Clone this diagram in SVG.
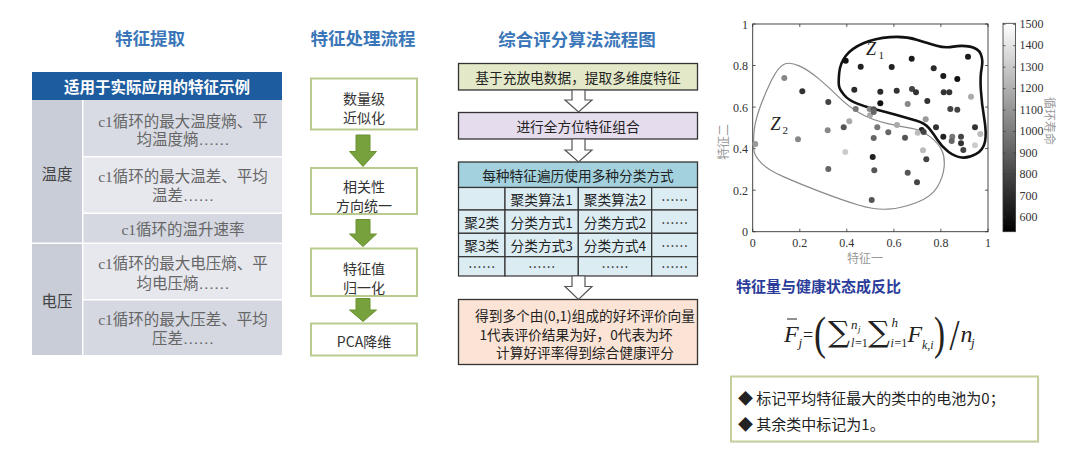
<svg xmlns="http://www.w3.org/2000/svg" width="1080" height="461" viewBox="0 0 1080 461">
<defs>
<style>
.title{font-family:"Noto Sans CJK SC",sans-serif;font-size:17.5px;font-weight:bold;fill:#3a76b8;text-anchor:middle;dominant-baseline:central}
.cell{font-family:"Liberation Serif","Noto Sans CJK SC",serif;font-size:15.5px;fill:#666;text-anchor:middle;dominant-baseline:central}
.lab{font-family:"Noto Sans CJK SC",sans-serif;font-size:15.5px;fill:#444;text-anchor:middle;dominant-baseline:central}
.mbox{fill:#fff;stroke:#b9cc8e;stroke-width:2}
.mtxt{font-family:"Noto Sans CJK SC",sans-serif;font-size:14px;fill:#333;text-anchor:middle;dominant-baseline:central}
.garrow{fill:#77a13c;stroke:#6a9231;stroke-width:1}
.fbox{stroke:#333;stroke-width:1.3}
.ftxt{font-family:"Noto Sans CJK SC",sans-serif;font-size:13.7px;fill:#222;text-anchor:middle;dominant-baseline:central}
.harrow{fill:#fff;stroke:#555;stroke-width:1.2}
.grid{fill:#dcecf3;stroke:#333;stroke-width:1.2}
.tick{font-family:"Liberation Serif",serif;font-size:12px;fill:#333}
.axl{font-family:"Noto Sans CJK SC",sans-serif;font-size:12px;fill:#999;text-anchor:middle;dominant-baseline:central}
.m{font-family:"Liberation Serif",serif;fill:#222}
.mi{font-family:"Liberation Serif",serif;font-style:italic;fill:#222}
.sum{font-family:"DejaVu Serif",serif;font-size:29px;fill:#222}
.bul{font-family:"Noto Sans CJK SC",sans-serif;font-size:15px;fill:#222}
</style>
<linearGradient id="cb" x1="0" y1="0" x2="0" y2="1">
<stop offset="0" stop-color="#ffffff"/>
<stop offset="1" stop-color="#000000"/>
</linearGradient>
</defs>
<rect width="1080" height="461" fill="#ffffff"/>

<!-- Left: feature extraction table -->
<g id="feature-extraction">
<text class="title" x="150" y="37">特征提取</text>
<rect x="32" y="72" width="250" height="28" fill="#1d5c9e"/>
<text x="157" y="86" font-family="Noto Sans CJK SC, sans-serif" font-size="15.5" font-weight="bold" fill="#fff" text-anchor="middle" dominant-baseline="central">适用于实际应用的特征示例</text>
<rect x="32" y="100" width="50" height="142.5" fill="#c9cdd8"/>
<rect x="32" y="244" width="50" height="111" fill="#c9cdd8"/>
<rect x="83.5" y="100" width="198.5" height="56" fill="#d8dbe3"/>
<rect x="83.5" y="157.5" width="198.5" height="55" fill="#e7e8ee"/>
<rect x="83.5" y="214" width="198.5" height="28.5" fill="#d5d8e1"/>
<rect x="83.5" y="244" width="198.5" height="55" fill="#e7e8ee"/>
<rect x="83.5" y="300.5" width="198.5" height="54.5" fill="#d5d8e1"/>
<text class="lab" x="57" y="173">温度</text>
<text class="lab" x="57" y="300">电压</text>
<text class="cell" x="183" y="121.5">c1循环的最大温度熵、平</text>
<text class="cell" x="183" y="139">均温度熵……</text>
<text class="cell" x="183" y="176.5">c1循环的最大温差、平均</text>
<text class="cell" x="183" y="195">温差……</text>
<text class="cell" x="183" y="229">c1循环的温升速率</text>
<text class="cell" x="183" y="263.5">c1循环的最大电压熵、平</text>
<text class="cell" x="183" y="283">均电压熵……</text>
<text class="cell" x="183" y="319.5">c1循环的最大压差、平均</text>
<text class="cell" x="183" y="338">压差……</text>
</g>

<!-- Middle: feature processing flow -->
<g id="processing-title"><text class="title" x="363" y="37">特征处理流程</text></g>
<g id="step-1">
<rect class="mbox" x="311" y="78.5" width="106" height="51"/>
<text class="mtxt" x="364" y="97.5">数量级</text>
<text class="mtxt" x="364" y="116.5">近似化</text>
</g>
<g id="step-2">
<rect class="mbox" x="311" y="168" width="106" height="46"/>
<text class="mtxt" x="364" y="185.5">相关性</text>
<text class="mtxt" x="364" y="205">方向统一</text>
</g>
<g id="step-3">
<rect class="mbox" x="311" y="248.5" width="106" height="47.5"/>
<text class="mtxt" x="364" y="267.5">特征值</text>
<text class="mtxt" x="364" y="286.5">归一化</text>
</g>
<g id="step-4">
<rect class="mbox" x="311" y="323.5" width="106" height="32"/>
<text class="mtxt" x="364" y="341">PCA降维</text>
</g>

<!-- Right-middle: scoring algorithm flowchart -->
<g id="algo-title"><text class="title" x="577" y="38">综合评分算法流程图</text></g>
<g id="algo-1">
<rect class="fbox" x="458.5" y="63.5" width="239" height="26.5" fill="#e3e9c8"/>
<text class="ftxt" x="578" y="77">基于充放电数据，提取多维度特征</text>
</g>
<g id="algo-2">
<rect class="fbox" x="458.5" y="112.5" width="239" height="26.5" fill="#e5dced"/>
<text class="ftxt" x="578" y="126">进行全方位特征组合</text>
</g>
<g id="algo-3">
<rect class="fbox" x="458.5" y="162" width="239" height="25.5" fill="#a3d2de"/>
<text class="ftxt" x="578" y="175">每种特征遍历使用多种分类方式</text>
<rect class="grid" x="458.5" y="187.5" width="46.5" height="22.5"/>
<rect class="grid" x="505" y="187.5" width="73.3" height="22.5"/>
<rect class="grid" x="578.3" y="187.5" width="73.4" height="22.5"/>
<rect class="grid" x="651.7" y="187.5" width="45.8" height="22.5"/>
<rect class="grid" x="458.5" y="210" width="46.5" height="23.3"/>
<rect class="grid" x="505" y="210" width="73.3" height="23.3"/>
<rect class="grid" x="578.3" y="210" width="73.4" height="23.3"/>
<rect class="grid" x="651.7" y="210" width="45.8" height="23.3"/>
<rect class="grid" x="458.5" y="233.3" width="46.5" height="23.4"/>
<rect class="grid" x="505" y="233.3" width="73.3" height="23.4"/>
<rect class="grid" x="578.3" y="233.3" width="73.4" height="23.4"/>
<rect class="grid" x="651.7" y="233.3" width="45.8" height="23.4"/>
<rect class="grid" x="458.5" y="256.7" width="46.5" height="19.3"/>
<rect class="grid" x="505" y="256.7" width="73.3" height="19.3"/>
<rect class="grid" x="578.3" y="256.7" width="73.4" height="19.3"/>
<rect class="grid" x="651.7" y="256.7" width="45.8" height="19.3"/>
<text class="ftxt" x="541.7" y="199">聚类算法1</text>
<text class="ftxt" x="615" y="199">聚类算法2</text>
<text class="ftxt" x="674.6" y="199">……</text>
<text class="ftxt" x="481.7" y="221.7">聚2类</text>
<text class="ftxt" x="541.7" y="221.7">分类方式1</text>
<text class="ftxt" x="615" y="221.7">分类方式2</text>
<text class="ftxt" x="674.6" y="221.7">……</text>
<text class="ftxt" x="481.7" y="245">聚3类</text>
<text class="ftxt" x="541.7" y="245">分类方式3</text>
<text class="ftxt" x="615" y="245">分类方式4</text>
<text class="ftxt" x="674.6" y="245">……</text>
<text class="ftxt" x="481.7" y="266.3">……</text>
<text class="ftxt" x="541.7" y="266.3">……</text>
<text class="ftxt" x="615" y="266.3">……</text>
<text class="ftxt" x="674.6" y="266.3">……</text>
</g>
<g id="algo-4">
<rect class="fbox" x="458.5" y="299.5" width="239" height="65" fill="#fbe4d5"/>
<text class="ftxt" x="585" y="315">得到多个由(0,1)组成的好坏评价向量</text>
<text class="ftxt" x="576" y="334">1代表评价结果为好，0代表为坏</text>
<text class="ftxt" x="585" y="352">计算好评率得到综合健康评分</text>
</g>

<!-- Connectors -->
<g id="connectors">
<path class="garrow" d="M356,135 H370 V151.5 H376.5 L363,166.5 L349.5,151.5 H356 Z"/>
<path class="garrow" d="M356,219.5 H370 V234 H376.5 L363,246.5 L349.5,234 H356 Z"/>
<path class="garrow" d="M356,298.5 H370 V310 H376.5 L363,321.5 L349.5,310 H356 Z"/>
<path class="harrow" d="M572,90 H585 V100 H592 L578.5,112 L565,100 H572 Z"/>
<path class="harrow" d="M572,139 H585 V150 H592 L578.5,162 L565,150 H572 Z"/>
<path class="harrow" d="M572,276 H585 V286.5 H592 L578.5,299.5 L565,286.5 H572 Z"/>
</g>

<!-- Scatter plot -->
<g id="scatter-plot">
<rect x="752.7" y="24" width="235.3" height="207.7" fill="none" stroke="#333" stroke-width="0.9"/>
<g stroke="#333" stroke-width="0.8">
<path d="M752.7,231.7v-3M799.8,231.7v-3M846.8,231.7v-3M893.9,231.7v-3M940.9,231.7v-3M988,231.7v-3"/>
<path d="M752.7,24v3M799.8,24v3M846.8,24v3M893.9,24v3M940.9,24v3M988,24v3"/>
<path d="M752.7,231.7h3M752.7,190.2h3M752.7,148.6h3M752.7,107.1h3M752.7,65.5h3M752.7,24h3"/>
<path d="M988,231.7h-3M988,190.2h-3M988,148.6h-3M988,107.1h-3M988,65.5h-3M988,24h-3"/>
</g>
<g class="tick" text-anchor="middle">
<text x="752.7" y="247">0</text>
<text x="799.8" y="247">0.2</text>
<text x="846.8" y="247">0.4</text>
<text x="893.9" y="247">0.6</text>
<text x="940.9" y="247">0.8</text>
<text x="988" y="247">1</text>
</g>
<g class="tick" text-anchor="end">
<text x="748" y="236">0</text>
<text x="748" y="194.5">0.2</text>
<text x="748" y="153">0.4</text>
<text x="748" y="111.5">0.6</text>
<text x="748" y="70">0.8</text>
<text x="748" y="28.5">1</text>
</g>
<text class="axl" x="865" y="257">特征一</text>
<text class="axl" transform="translate(722,142) rotate(-90)">特征二</text>
<path d="M753.8,135 Q754.3,123.3 759.65,108.3 Q765,93.3 771.65,80 Q778.3,66.7 784.15,64.2 Q790,61.7 799.15,65.85 Q808.3,70 818.3,78.35 Q828.3,86.7 838.3,96.7 Q848.3,106.7 860,113.35 Q871.7,120 886.7,123.35 Q901.7,126.7 911.7,128.35 Q921.7,130 930,136.65 Q938.3,143.3 941.65,150 Q945,156.7 944.15,166.7 Q943.3,176.7 937.5,186.7 Q931.7,196.7 916.7,202.5 Q901.7,208.3 888.35,209.15 Q875,210 858.35,205 Q841.7,200 820,191.65 Q798.3,183.3 783.3,176.65 Q768.3,170 761.65,163.35 Q755,156.7 754.15,151.7 Q753.3,146.7 753.8,135 Z" fill="none" stroke="#8a8a8a" stroke-width="1.2"/>
<path d="M839.15,73.3 Q840,63.3 845.85,55.8 Q851.7,48.3 863.35,43.3 Q875,38.3 890,37.15 Q905,36 916.65,39.65 Q928.3,43.3 936.65,45.8 Q945,48.3 953.35,46.65 Q961.7,45 970,46.65 Q978.3,48.3 980.8,54.15 Q983.3,60 981.65,68.35 Q980,76.7 980.85,90 Q981.7,103.3 984.2,118.3 Q986.7,133.3 985,141.65 Q983.3,150 975.8,154.15 Q968.3,158.3 961.65,157.5 Q955,156.7 948.35,151.7 Q941.7,146.7 937.5,140 Q933.3,133.3 929.15,128.3 Q925,123.3 916.65,120.8 Q908.3,118.3 896.65,115 Q885,111.7 875,109.2 Q865,106.7 856.65,103.35 Q848.3,100 844.15,95 Q840,90 839.15,86.65 Q838.3,83.3 839.15,73.3 Z" fill="none" stroke="#111" stroke-width="2.6"/>
<g>
<circle cx="845.7" cy="60.7" r="3" fill="#111"/>
<circle cx="860.7" cy="66.7" r="3" fill="#222"/>
<circle cx="891.7" cy="67" r="3" fill="#222"/>
<circle cx="911.7" cy="58.7" r="3" fill="#1a1a1a"/>
<circle cx="933.7" cy="68.3" r="3" fill="#2a2a2a"/>
<circle cx="943.3" cy="76" r="3" fill="#1a1a1a"/>
<circle cx="957.3" cy="79" r="3" fill="#111"/>
<circle cx="968" cy="56.7" r="3" fill="#1a1a1a"/>
<circle cx="854.3" cy="89.7" r="3" fill="#2a2a2a"/>
<circle cx="880.3" cy="91.7" r="3" fill="#2a2a2a"/>
<circle cx="896.7" cy="90.7" r="3" fill="#333"/>
<circle cx="912" cy="89" r="3" fill="#444"/>
<circle cx="916" cy="92.3" r="3" fill="#333"/>
<circle cx="943.7" cy="92.3" r="3" fill="#333"/>
<circle cx="949.3" cy="92.3" r="3" fill="#333"/>
<circle cx="971" cy="96.7" r="3" fill="#aaa"/>
<circle cx="880.3" cy="103.3" r="3" fill="#111"/>
<circle cx="855.7" cy="109" r="3" fill="#777"/>
<circle cx="869.7" cy="109" r="3" fill="#888"/>
<circle cx="873.7" cy="109.3" r="3" fill="#555"/>
<circle cx="907.7" cy="104" r="3" fill="#888"/>
<circle cx="927.3" cy="101" r="3" fill="#333"/>
<circle cx="950.3" cy="109" r="3" fill="#444"/>
<circle cx="957.3" cy="109.7" r="3" fill="#444"/>
<circle cx="925.7" cy="119.3" r="3" fill="#999"/>
<circle cx="936" cy="127.3" r="3" fill="#333"/>
<circle cx="975" cy="127.3" r="3" fill="#333"/>
<circle cx="980.3" cy="134" r="3" fill="#bbb"/>
<circle cx="943.3" cy="136.7" r="3" fill="#222"/>
<circle cx="952.3" cy="136.7" r="3" fill="#777"/>
<circle cx="961" cy="136.7" r="3" fill="#444"/>
<circle cx="951.7" cy="141" r="3" fill="#666"/>
<circle cx="961" cy="143.3" r="3" fill="#333"/>
<circle cx="963.3" cy="150" r="3" fill="#444"/>
<circle cx="975" cy="145.3" r="3" fill="#ccc"/>
<circle cx="921.7" cy="130" r="3" fill="#222"/>
<circle cx="923.7" cy="132" r="3" fill="#444"/>
<circle cx="917.7" cy="132.7" r="3" fill="#bbb"/>
<circle cx="784.3" cy="78" r="3" fill="#888"/>
<circle cx="802.3" cy="91.3" r="3" fill="#333"/>
<circle cx="828.3" cy="102" r="3" fill="#444"/>
<circle cx="849.3" cy="121.3" r="3" fill="#aaa"/>
<circle cx="843.7" cy="127.3" r="3" fill="#555"/>
<circle cx="827.7" cy="130.3" r="3" fill="#888"/>
<circle cx="798" cy="139.3" r="3" fill="#888"/>
<circle cx="755.3" cy="144" r="3" fill="#999"/>
<circle cx="870" cy="115.3" r="3" fill="#aaa"/>
<circle cx="873.7" cy="112" r="3" fill="#666"/>
<circle cx="877.3" cy="127.3" r="3" fill="#777"/>
<circle cx="873.7" cy="138" r="3" fill="#666"/>
<circle cx="888.3" cy="132.3" r="3" fill="#666"/>
<circle cx="897" cy="125" r="3" fill="#aaa"/>
<circle cx="905" cy="137.7" r="3" fill="#555"/>
<circle cx="845.3" cy="152" r="3" fill="#ccc"/>
<circle cx="872.7" cy="157" r="3" fill="#222"/>
<circle cx="874.3" cy="170.3" r="3" fill="#555"/>
<circle cx="828.3" cy="169" r="3" fill="#666"/>
<circle cx="907.7" cy="172.7" r="3" fill="#555"/>
<circle cx="923" cy="150.3" r="3" fill="#bbb"/>
<circle cx="926.3" cy="159.3" r="3" fill="#444"/>
<circle cx="917" cy="182.3" r="3" fill="#444"/>
<circle cx="871.7" cy="200" r="3" fill="#555"/>
</g>
<text class="mi" x="866" y="55" font-size="18">Z</text>
<text class="m" x="878.5" y="58.5" font-size="11">1</text>
<text class="mi" x="770.5" y="130" font-size="18">Z</text>
<text class="m" x="782.5" y="133.5" font-size="11">2</text>
<rect x="1003" y="23.3" width="12.5" height="208.4" fill="url(#cb)" stroke="#333" stroke-width="0.8"/>
<g stroke="#333" stroke-width="0.7">
<path d="M1015.5,24.3h-2.5M1015.5,45.7h-2.5M1015.5,67.2h-2.5M1015.5,88.6h-2.5M1015.5,110.1h-2.5M1015.5,131.5h-2.5M1015.5,153h-2.5M1015.5,174.4h-2.5M1015.5,195.9h-2.5M1015.5,217.3h-2.5"/>
<path d="M1003,24.3h2.5M1003,45.7h2.5M1003,67.2h2.5M1003,88.6h2.5M1003,110.1h2.5M1003,131.5h2.5M1003,153h2.5M1003,174.4h2.5M1003,195.9h2.5M1003,217.3h2.5"/>
</g>
<g class="tick" font-size="10.5">
<text x="1019.5" y="28">1500</text>
<text x="1019.5" y="49.4">1400</text>
<text x="1019.5" y="70.9">1300</text>
<text x="1019.5" y="92.3">1200</text>
<text x="1019.5" y="113.8">1100</text>
<text x="1019.5" y="135.2">1000</text>
<text x="1019.5" y="156.7">900</text>
<text x="1019.5" y="178.1">800</text>
<text x="1019.5" y="199.6">700</text>
<text x="1019.5" y="221">600</text>
</g>
<text class="axl" font-size="9.5" transform="translate(1050,121) rotate(90)">循环寿命</text>
</g>

<!-- Formula -->
<g id="formula">
<text x="736" y="292" font-family="Noto Sans CJK SC, sans-serif" font-size="15" font-weight="bold" fill="#2b3c9a">特征量与健康状态成反比</text>
<line x1="787" y1="319" x2="797" y2="319" stroke="#222" stroke-width="1"/>
<text class="mi" x="784" y="341.5" font-size="24">F</text>
<text class="mi" x="798.5" y="347" font-size="13">j</text>
<text class="m" x="803" y="341" font-size="18">=</text>
<text class="m" x="814" y="349" font-size="46" textLength="12" lengthAdjust="spacingAndGlyphs">(</text>
<text class="sum" x="828" y="342" textLength="22" lengthAdjust="spacingAndGlyphs">∑</text>
<text class="mi" x="851" y="329" font-size="13">n</text>
<text class="mi" x="858" y="332" font-size="9">j</text>
<text class="mi" x="851" y="347" font-size="12">l</text>
<text class="m" x="855" y="347" font-size="12">=1</text>
<text class="sum" x="868" y="342" textLength="22" lengthAdjust="spacingAndGlyphs">∑</text>
<text class="mi" x="891.5" y="327" font-size="13">h</text>
<text class="mi" x="890.5" y="347" font-size="12">i</text>
<text class="m" x="894.5" y="347" font-size="12">=1</text>
<text class="mi" x="907.5" y="341.5" font-size="24">F</text>
<text class="mi" x="922" y="349" font-size="12">k,i</text>
<text class="m" x="934" y="349" font-size="46" textLength="11" lengthAdjust="spacingAndGlyphs">)</text>
<text class="m" x="949.5" y="350" font-size="44" textLength="10" lengthAdjust="spacingAndGlyphs">/</text>
<text class="mi" x="960.5" y="341.5" font-size="24">n</text>
<text class="mi" x="971" y="347" font-size="13">j</text>
</g>

<!-- Bullet box -->
<g id="rule-box">
<rect x="732.5" y="378" width="307" height="65" fill="#e6e6e6" opacity="0.6"/>
<rect x="731" y="376.5" width="307" height="65" fill="#fff" stroke="#c3cf9c" stroke-width="2"/>
<text class="bul" x="738" y="403.5">◆ 标记平均特征最大的类中的电池为0；</text>
<text class="bul" x="738" y="430">◆ 其余类中标记为1。</text>
</g>
</svg>
